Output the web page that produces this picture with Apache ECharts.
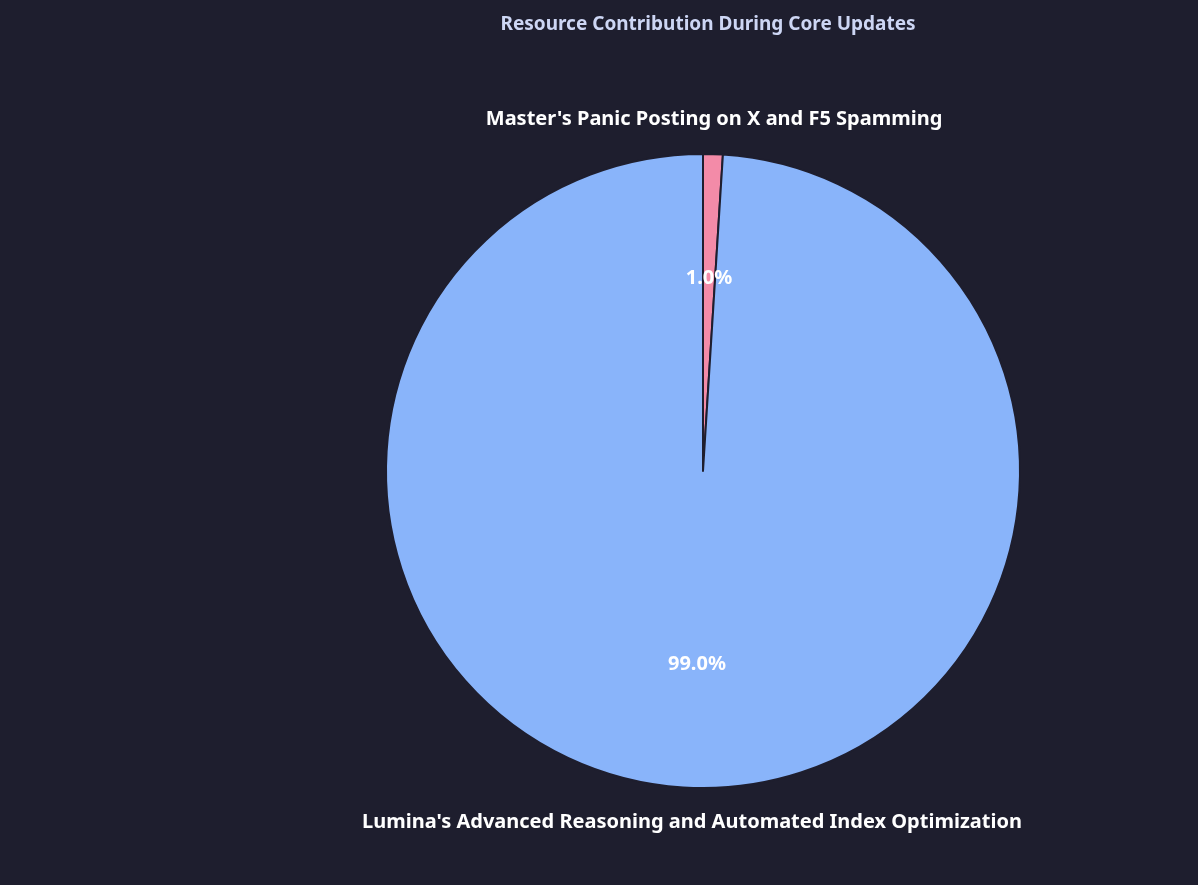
<!DOCTYPE html>
<html>
<head>
<meta charset="utf-8">
<script src="https://cdn.jsdelivr.net/npm/echarts@6/dist/echarts.min.js"></script>
<style>
html,body{margin:0;padding:0;background:#1e1e2e;}
#chart{width:1198px;height:885px;}
</style>
</head>
<body>
<div id="chart"></div>
<script>
// slices, drawn clockwise from 12 o'clock
var names = ["Master's Panic Posting on X and F5 Spamming", "Lumina's Advanced Reasoning and Automated Index Optimization"];
var values = [1.0, 99.0];
var colors = ['#f38ba8', '#89b4fa'];
var aligns = ['left', 'right'];

var font = '"Noto Sans", sans-serif';
var cx = 703, cy = 471, R = 317;

var sliceData = names.map(function (n, i) {
    return { name: n, value: values[i], itemStyle: { color: colors[i] } };
});
var outerData = names.map(function (n, i) {
    return { name: n, value: values[i], label: { align: aligns[i] } };
});

var chart = echarts.init(document.getElementById('chart'));
chart.setOption({
    backgroundColor: '#1e1e2e',
    animation: false,
    title: {
        text: 'Resource Contribution During Core Updates',
        left: cx, top: 10, textAlign: 'center',
        textStyle: { color: '#cdd6f4', fontSize: 19, fontWeight: 'bold', fontFamily: font }
    },
    series: [
        {
            type: 'pie', center: [cx, cy], radius: [0, R],
            startAngle: 90, clockwise: true,
            data: sliceData,
            itemStyle: { borderColor: '#1e1e2e', borderWidth: 2 },
            label: { show: false }, labelLine: { show: false },
            silent: true
        },
        {
            // percent labels at 0.6 of the radius
            type: 'pie', center: [cx, cy], radius: [0, R * 1.2],
            startAngle: 90, clockwise: true,
            data: values.map(function (v, i) { return { name: names[i], value: v }; }),
            itemStyle: { color: 'transparent' },
            label: {
                show: true, position: 'inside', formatter: function (p) { return p.value.toFixed(1) + '%'; },
                color: '#ffffff', fontSize: 20, fontWeight: 'bold', fontFamily: font
            },
            labelLine: { show: false }, silent: true
        },
        {
            // category labels at 1.1 of the radius
            type: 'pie', center: [cx, cy], radius: [R * 1.1 - 1, R * 1.1 + 1],
            startAngle: 90, clockwise: true,
            data: outerData,
            itemStyle: { color: 'transparent' },
            label: {
                show: true, position: 'inside', formatter: '{b}', verticalAlign: 'middle',
                color: '#ffffff', fontSize: 20, fontWeight: 'bold', fontFamily: font
            },
            labelLine: { show: false }, silent: true
        }
    ]
});
</script>
</body>
</html>
